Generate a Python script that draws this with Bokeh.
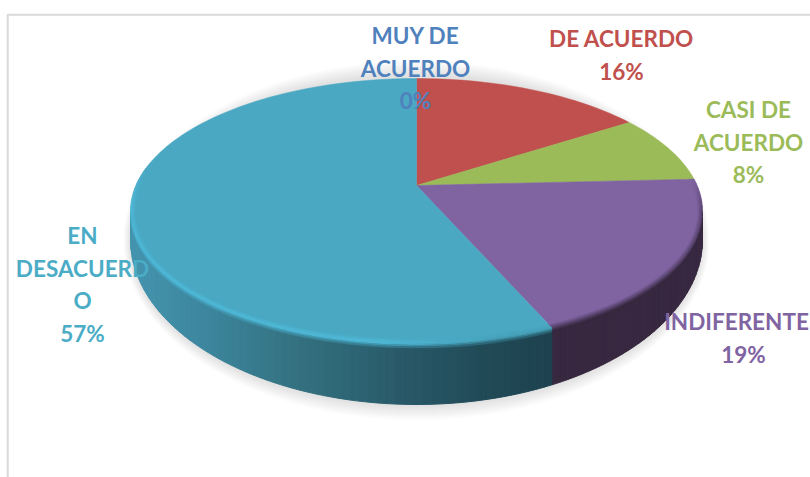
import math
from bokeh.plotting import figure
from bokeh.embed import file_html
from bokeh.resources import INLINE
from bokeh.core.properties import value

# --- data ---
categories = ["MUY DE ACUERDO", "DE ACUERDO", "CASI DE ACUERDO", "INDIFERENTE", "EN DESACUERDO"]
percent = [0, 15.8, 8.4, 19.3, 56.5]
slice_colors = ["#4F81BD", "#C0504D", "#9BBB59", "#8064A2", "#4AA8C3"]
label_colors = ["#4F81BD", "#C0504D", "#9BBB59", "#8064A2", "#4BACC6"]
label_lines = [
    ["MUY DE", "ACUERDO", "0%"],
    ["DE ACUERDO", "16%"],
    ["CASI DE", "ACUERDO", "8%"],
    ["INDIFERENTE", "19%"],
    ["EN", "DESACUERD", "O", "57%"],
]
label_centers = [(415, 35), (621, 38), (748, 109), (736, 321), (82, 235)]

# --- layout of the projected pie (reference pixels) ---
CX, CY = 416, 185
B = 0.1925
A = 127.6
W = 280.6
RIM_CY = 210
BOT_CY, BOT_RX, BOT_RY = 239, 286, 165
LINE_STEP = 32.6
FONT = "Lato"
FONT_SIZE = "22.5px"


def rim(theta):
    t = math.radians(theta)
    d = 1 + B * math.cos(t)
    return CX + W * math.sin(t) / d, CY - A * math.cos(t) / d


def bottom(x):
    u = min(1.0, abs(x - CX) / BOT_RX)
    return BOT_CY + BOT_RY * math.sqrt(1 - u * u)


def rgb(h):
    return tuple(int(h[i:i + 2], 16) for i in (1, 3, 5))


def mix(a, b, f):
    f = max(0.0, min(1.0, f))
    ca, cb = rgb(a), rgb(b)
    return "#%02x%02x%02x" % tuple(round(p + (q - p) * f) for p, q in zip(ca, cb))


def ramp(stops, x):
    for (x0, c0), (x1, c1) in zip(stops, stops[1:]):
        if x <= x1:
            return mix(c0, c1, (x - x0) / (x1 - x0))
    return stops[-1][1]


TEAL_SIDE = [(125, "#4595B0"), (200, "#3D879F"), (300, "#33707F"), (405, "#285867"), (480, "#214A57"), (560, "#1E414E")]
PURPLE_SIDE = "#372840"

p = figure(width=810, height=477, x_range=(0, 810), y_range=(477, 0),
           toolbar_location=None, output_backend="svg", min_border=0)
p.axis.visible = False
p.grid.visible = False
p.outline_line_color = None
p.background_fill_color = "#FFFFFF"
p.border_fill_color = "#FFFFFF"

# frame of the chart
p.line([7.2, 7.2, 810], [477, 14.3, 14.3], line_color="#D9D9D9", line_width=2)

# soft shadow below the disc
for r in range(15, 0, -1):
    ts = [math.radians(a) for a in range(0, 360, 3)]
    xs = [CX + (BOT_RX + r * 0.5) * math.sin(t) for t in ts]
    ys = [BOT_CY + 1 + (BOT_RY + r) * math.cos(t) for t in ts]
    p.patch(xs, ys, fill_color="#000000", fill_alpha=0.009, line_color=None)

# boundaries of the slices, from the values
total = sum(percent)
edges = [0.0]
for v in percent:
    edges.append(edges[-1] + 360.0 * v / total)

# side wall, front half only
front_start = math.degrees(math.acos(-B))
front_end = 360 - front_start
purple_end = edges[4]
side_x, side_y, side_c = [], [], []
step = 1.5
a = front_start
while a < front_end:
    b = min(a + step, front_end)
    if a < purple_end < b:
        b = purple_end
    x0, y0 = rim(a)
    x1, y1 = rim(b)
    side_x.append([x0, x1, x1, x0])
    side_y.append([y0, y1, bottom(x1), bottom(x0)])
    mid = (a + b) / 2
    side_c.append(PURPLE_SIDE if mid < purple_end else ramp(TEAL_SIDE, (x0 + x1) / 2))
    a = b
p.patches(side_x, side_y, fill_color=side_c, line_color=side_c, line_width=1)

# top surface
for v, c, a0, a1 in zip(percent, slice_colors, edges, edges[1:]):
    if v == 0:
        continue
    n = max(2, int((a1 - a0) / 1.5))
    pts = [rim(a0 + (a1 - a0) * i / n) for i in range(n + 1)]
    p.patch([CX] + [q[0] for q in pts], [CY] + [q[1] for q in pts],
            fill_color=c, line_color=c, line_width=0.5)

# bevel between the surface and the wall
band_x, band_y, band_c = [], [], []
OFFS = [-6, -4.5, -3, -1.5, 0, 1.5, 3, 4.5]
BAND_FROM, BAND_TO = edges[3], 278.0


def off_pt(theta, k):
    x, y = rim(theta)
    if k >= 0:
        return x, y + k
    dx, dy = x - CX, y - RIM_CY
    n = math.hypot(dx, dy)
    return x + k * dx / n, y + k * dy / n


a = BAND_FROM
while a < BAND_TO:
    b = min(a + 2.0, BAND_TO)
    if a < purple_end < b:
        b = purple_end
    mid = (a + b) / 2
    xm, _ = rim(mid)
    teal = mid >= purple_end
    fade = min(1.0, (mid - BAND_FROM) / 14, (BAND_TO - mid) / 14)
    in_front = front_start < mid < front_end
    for k0, k1 in zip(OFFS, OFFS[1:]):
        if k0 >= 0 and not in_front:
            continue
        f = (k0 - OFFS[0]) / (OFFS[-1] - OFFS[0])
        top_col = slice_colors[4] if teal else slice_colors[3]
        if teal:
            glow = max(0.0, min(1.0, (500 - xm) / 120))
            hi = mix("#47A0B8", "#50BCDB", glow)
            wall = ramp(TEAL_SIDE, xm)
            col = mix(top_col, hi, f / 0.55) if f < 0.55 else mix(hi, wall, (f - 0.55) / 0.45)
        else:
            col = mix(top_col, PURPLE_SIDE, f / 0.85)
        col = mix(top_col, col, fade)
        q = [off_pt(a, k0), off_pt(b, k0), off_pt(b, k1), off_pt(a, k1)]
        band_x.append([t[0] for t in q])
        band_y.append([t[1] for t in q])
        band_c.append(col)
    a = b
p.patches(band_x, band_y, fill_color=band_c, line_color=band_c, line_width=0.4)

# labels
for lines, color, (lx, ly) in zip(label_lines, label_colors, label_centers):
    xs = [lx] * len(lines)
    if lines[0] == "INDIFERENTE":
        xs[1] = lx + 7
    p.text(xs, [ly + i * LINE_STEP for i in range(len(lines))], text=lines,
           text_color=color, text_font=value(FONT), text_font_style="bold",
           text_font_size=FONT_SIZE, text_align="center", text_baseline="middle")

open("out.html", "w").write(file_html(p, INLINE))
